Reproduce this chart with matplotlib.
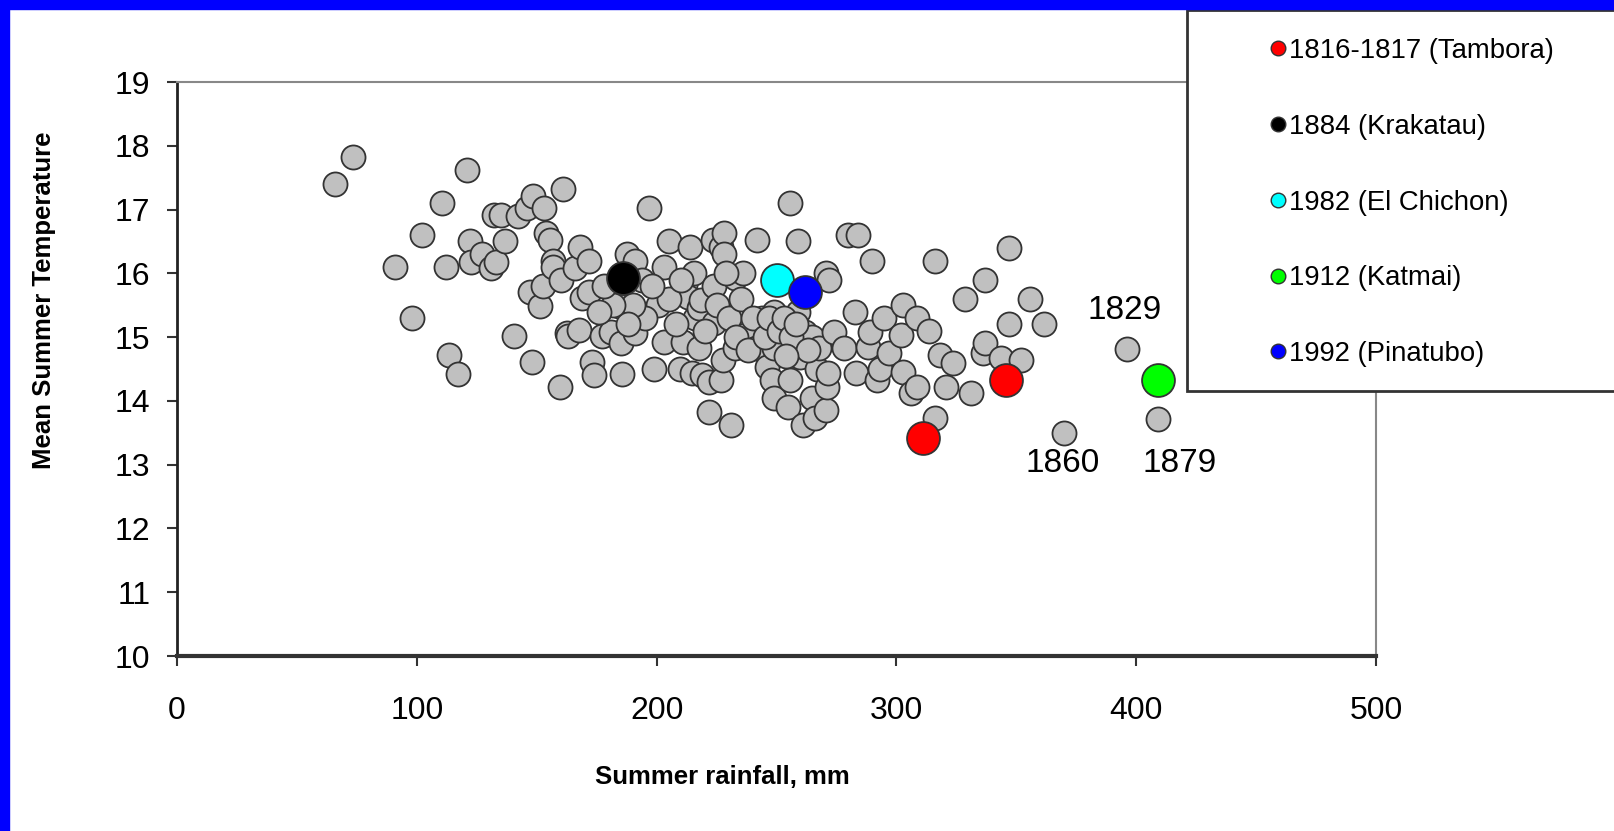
import matplotlib
matplotlib.use("Agg")
import matplotlib.pyplot as plt
from matplotlib.lines import Line2D
from matplotlib.patches import Rectangle

plt.rcParams['font.family'] = ['Liberation Sans', 'DejaVu Sans']

# all years: summer rainfall (mm) and mean summer temperature
rain = [66, 73.5, 91, 98, 102, 110.6, 112, 113.5, 117, 121, 122, 122.8, 127, 131, 133,
        132, 135, 136.8, 140.5, 142, 146, 148.6, 153, 147, 148, 151.4, 152.6, 154, 155.5,
        156.6, 157, 159.6, 160, 161, 162.6, 166, 168, 169, 172, 172, 163, 167.5, 173, 174,
        177.4, 181, 184.3, 185, 185.7, 187.6, 191, 191, 194, 197, 200.6, 203, 203, 199,
        205, 209.7, 211, 212, 212, 213, 214, 214.8, 215.6, 216, 217.5, 217.7, 218.5, 219,
        222, 222, 223.8, 224, 223.6, 226.7, 227, 228, 228, 227.5, 231, 232.7, 232.7, 237,
        241.5, 242, 244, 246, 248, 249, 249, 249, 255, 255.6, 255.6, 259, 259, 259, 259.6,
        261, 262, 264.8, 265, 266, 267, 267.7, 270.6, 270.6, 271, 271.5, 272, 274, 278,
        280, 282.6, 283, 284, 288, 289, 290, 292, 293, 295, 297, 302, 302.8, 302.8, 306,
        308.6, 308.6, 313.8, 316, 316, 318, 320.6, 323.6, 328.6, 331, 336, 337, 337, 343.6,
        347, 347, 352, 355.6, 361.6, 370, 396, 409,
        205, 208, 210, 220, 225, 230, 233, 235, 238, 240, 245, 247, 251, 253, 256, 258,
        263, 254, 236, 229, 198, 195, 190, 188, 182, 178, 176]
temp = [17.4, 17.82, 16.1, 15.3, 16.6, 17.11, 16.1, 14.72, 14.42, 17.62, 16.5, 16.18, 16.3,
        16.08, 16.18, 16.91, 16.91, 16.5, 15.02, 16.9, 17.02, 17.22, 17.02, 15.7, 14.61,
        15.48, 15.8, 16.63, 16.52, 16.2, 16.1, 14.22, 15.9, 17.32, 15.07, 16.08, 16.42,
        15.61, 15.71, 16.2, 15.02, 15.11, 14.61, 14.4, 15.02, 15.08, 15.49, 14.9, 14.42,
        16.3, 16.2, 15.06, 15.9, 17.02, 15.5, 16.1, 14.92, 14.5, 16.5, 14.5, 14.92, 15.7,
        15.82, 15.63, 16.42, 14.43, 16.0, 15.3, 15.45, 14.83, 15.58, 14.4, 13.83, 14.3,
        15.22, 15.8, 16.52, 14.33, 16.42, 16.63, 16.31, 14.64, 13.62, 15.93, 14.83, 15.03,
        14.83, 16.52, 15.3, 14.53, 14.33, 14.83, 15.4, 14.04, 13.9, 14.33, 17.11, 16.5,
        15.4, 14.83, 14.69, 13.62, 15.08, 14.04, 15.0, 13.73, 14.5, 14.83, 16.0, 13.86,
        14.22, 14.43, 15.9, 15.08, 14.83, 16.6, 15.4, 14.43, 16.6, 14.85, 15.08, 16.2,
        14.33, 14.5, 15.3, 14.75, 15.03, 15.5, 14.45, 14.12, 15.3, 14.22, 15.1, 13.73,
        16.2, 14.72, 14.22, 14.6, 15.6, 14.12, 14.75, 14.9, 15.9, 14.67, 15.2, 16.4, 14.64,
        15.6, 15.2, 13.5, 14.82, 13.72,
        15.6, 15.2, 15.9, 15.1, 15.5, 15.3, 15.0, 15.6, 14.8, 15.3, 15.0, 15.3, 15.1,
        15.3, 15.0, 15.2, 14.8, 14.7, 16.0, 16.0, 15.8, 15.3, 15.5, 15.2, 15.5, 15.8, 15.4]

# volcanic years
volc_labels = ["1816-1817 (Tambora)", "1884 (Krakatau)", "1982 (El Chichon)",
               "1912 (Katmai)", "1992 (Pinatubo)"]
volc_colors = ["#FF0000", "#000000", "#00FFFF", "#00FF00", "#0000FF"]
volc_rain = [[311, 345.6], [186], [250], [409], [262]]
volc_temp = [[13.42, 14.33], [15.92], [15.9], [14.32], [15.7]]

# labelled years
note_text = ["1829", "1860", "1879"]
note_x = [395, 369.5, 418]
note_y = [15.42, 13.02, 13.02]

fig = plt.figure(figsize=(16.14, 8.31), dpi=100)
ax = fig.add_axes([177 / 1614, 1 - 656 / 831, 1199 / 1614, 574 / 831])

ax.scatter(rain, temp, s=300, c="#C0C0C0", edgecolors="#333333", linewidths=1.3, zorder=3)
for xs, ys, col in zip(volc_rain, volc_temp, volc_colors):
    ax.scatter(xs, ys, s=560, c=col, edgecolors="#333333", linewidths=1.3, zorder=4)

for t, x, y in zip(note_text, note_x, note_y):
    ax.text(x, y, t, fontsize=24, ha="center", va="center")

ax.set_xlim(0, 500)
ax.set_ylim(10, 19)
ax.set_xticks(range(0, 501, 100))
ax.set_yticks(range(10, 20))
ax.tick_params(axis="y", direction="out", length=7, width=1.5, color="#333333",
               labelsize=23, pad=12)
ax.tick_params(axis="x", direction="out", length=7, width=1.5, color="#333333",
               labelsize=23, pad=21.5)

ax.spines["left"].set_color("#222222")
ax.spines["left"].set_linewidth(2)
ax.spines["bottom"].set_color("#333333")
ax.spines["bottom"].set_linewidth(3)
for s in ["top", "right"]:
    ax.spines[s].set_color("#888888")
    ax.spines[s].set_linewidth(1.5)

ax.set_xlabel("Summer rainfall, mm", fontsize=18.5, fontweight="bold")
ax.xaxis.set_label_coords(0.4545, -0.19)
ax.set_ylabel("Mean Summer Temperature", fontsize=18.5, fontweight="bold")
ax.yaxis.set_label_coords(-0.101, 0.62)

# blue frame on the left and top
fig.patches.append(Rectangle((0, 0), 9 / 1614, 1, transform=fig.transFigure,
                             color="#0000FF", zorder=10))
fig.patches.append(Rectangle((0, 1 - 9 / 831), 1, 9 / 831, transform=fig.transFigure,
                             color="#0000FF", zorder=10))

# legend box running off the right edge
fig.patches.append(Rectangle((1187 / 1614, 1 - 391 / 831), 0.4, 381 / 831,
                             transform=fig.transFigure, facecolor="white",
                             edgecolor="#333333", linewidth=2, zorder=5))
handles = [Line2D([], [], marker="o", ls="none", markerfacecolor=c,
                  markeredgecolor="#333333", markersize=10.5) for c in volc_colors]
leg = fig.legend(handles, volc_labels, loc="upper left",
                 bbox_to_anchor=(1271 / 1614, 1 - 38 / 831), frameon=False,
                 fontsize=19.8, handlelength=0.5, handletextpad=0.15,
                 labelspacing=1.81, borderpad=0, borderaxespad=0)
leg.set_zorder(6)

fig.savefig("out.png", dpi=100, facecolor="white")
